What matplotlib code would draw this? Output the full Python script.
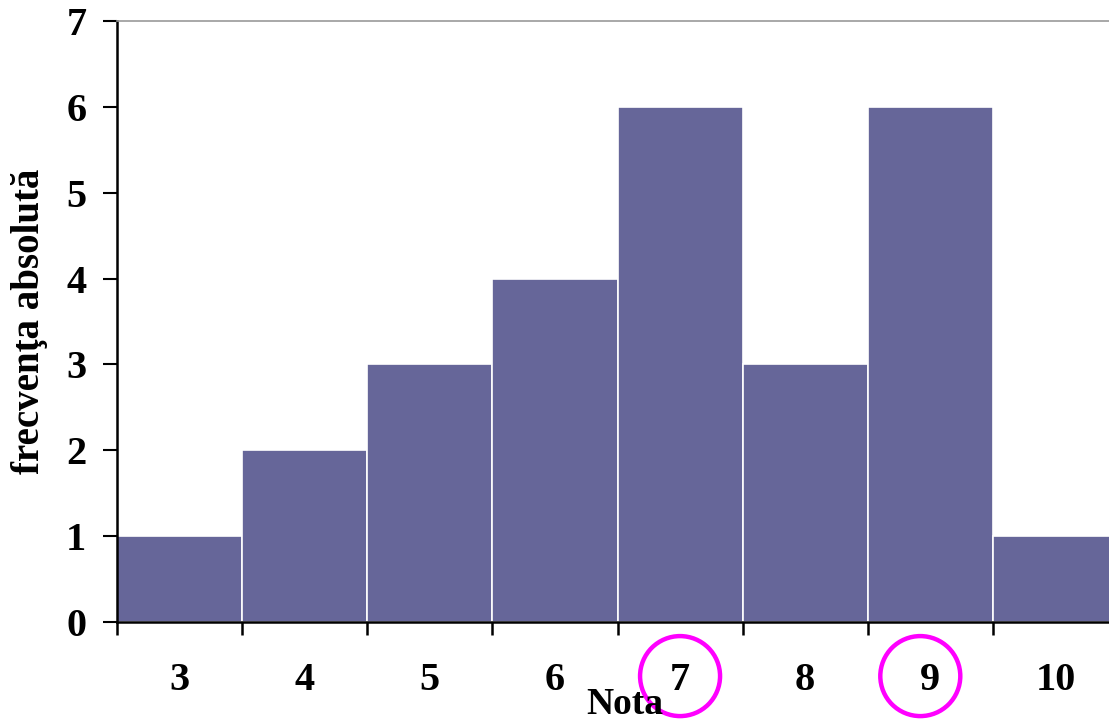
import numpy as np
import matplotlib
matplotlib.use("Agg")
import matplotlib.pyplot as plt
import matplotlib.transforms as mtransforms
from matplotlib.patches import Circle

# frequency table of grades
note = ["3", "4", "5", "6", "7", "8", "9", "10"]
frecventa = [1, 2, 3, 4, 6, 3, 6, 1]
# grades circled on the axis (the modes)
marcate = ["7", "9"]

plt.rcParams["font.family"] = ["Liberation Serif", "DejaVu Serif"]
plt.rcParams["font.weight"] = "bold"

fig = plt.figure(figsize=(11.09, 7.22), dpi=100)
ax = fig.add_axes([117 / 1109, 1 - 622 / 722, 1001 / 1109, 601 / 722])

x = np.arange(len(note))
ax.bar(x, frecventa, width=1.0, align="edge", color="#666699",
       edgecolor="white", linewidth=1.2)

ax.set_xlim(0, len(note))
ax.set_ylim(0, 7)

# ticks on the bin edges, labels centred under each bar
ax.set_xticks(x)
ax.set_xticklabels([])
ax.set_xticks(x + 0.5, minor=True)
ax.set_xticklabels(note, minor=True, fontsize=29, fontweight="bold")
ax.tick_params(axis="x", which="major", direction="out", length=9, width=1.8, color="black")
ax.tick_params(axis="x", which="minor", length=0, pad=29)

ax.set_yticks(range(0, 8))
ax.set_yticklabels([str(v) for v in range(0, 8)], fontsize=29, fontweight="bold")
ax.tick_params(axis="y", direction="out", length=10, width=1.5, pad=12)

for s in ["left", "bottom"]:
    ax.spines[s].set_linewidth(1.8)
    ax.spines[s].set_color("black")
ax.spines["top"].set_color("#999999")
ax.spines["top"].set_linewidth(1.2)
ax.spines["right"].set_visible(False)

ax.set_xlabel("Nota", fontsize=27, fontweight="bold")
ax.xaxis.set_label_coords(0.5075, -0.108)
ax.set_ylabel("frecvenţa absolută", fontsize=28, fontweight="bold")
ax.yaxis.set_label_coords(-0.069, 0.5)

# magenta rings around the modal grades
blend = mtransforms.blended_transform_factory(ax.transData, ax.transAxes)
for lab, dx in zip(marcate, [0.0, -0.08]):
    i = note.index(lab)
    tr = fig.dpi_scale_trans + mtransforms.ScaledTranslation(i + 0.5 + dx, -0.09, blend)
    ax.add_patch(Circle((0, 0), 0.40, transform=tr, fill=False,
                        edgecolor="#ff00ff", linewidth=3.2, clip_on=False))

fig.savefig("out.png", dpi=100)
